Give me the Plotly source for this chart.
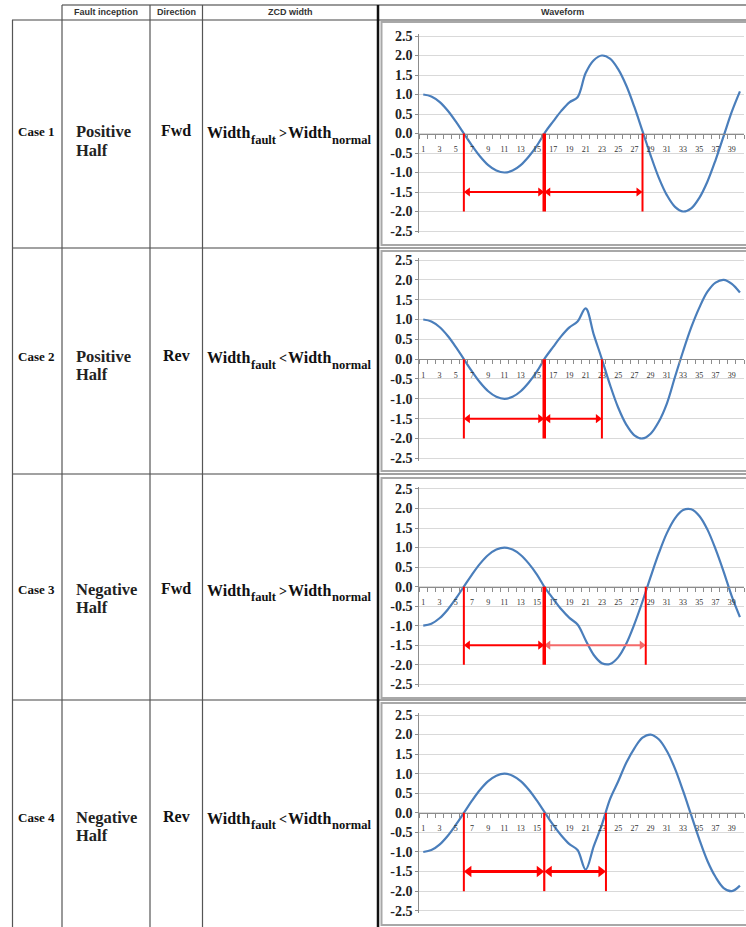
import plotly.graph_objects as go

# ---------------- data ----------------
categories = [1, 2, 3, 4, 5, 6, 7, 8, 9, 10, 11, 12, 13, 14, 15, 16, 17, 18, 19, 20,
              21, 22, 23, 24, 25, 26, 27, 28, 29, 30, 31, 32, 33, 34, 35, 36, 37, 38, 39, 40]
x_tick_vals = [1, 3, 5, 7, 9, 11, 13, 15, 17, 19, 21, 23, 25, 27, 29, 31, 33, 35, 37, 39]
x_tick_text = ["1", "3", "5", "7", "9", "11", "13", "15", "17", "19", "21", "23", "25",
               "27", "29", "31", "33", "35", "37", "39"]
y_tick_vals = [2.5, 2.0, 1.5, 1.0, 0.5, 0.0, -0.5, -1.0, -1.5, -2.0, -2.5]
y_tick_text = ["2.5", "2.0", "1.5", "1.0", "0.5", "0.0", "-0.5", "-1.0", "-1.5", "-2.0", "-2.5"]

header_labels = ["Fault inception", "Direction", "ZCD width", "Waveform"]
case_names = ["Case 1", "Case 2", "Case 3", "Case 4"]
inception_line1 = ["Positive", "Positive", "Negative", "Negative"]
inception_line2 = ["Half", "Half", "Half", "Half"]
directions = ["Fwd", "Rev", "Fwd", "Rev"]
zcd_relation = [">", "<", ">", "<"]
width_word = "Width"
fault_sub = "fault"
normal_sub = "normal"

case1_values = [1.00, 0.95, 0.81, 0.59, 0.31, 0.00, -0.31, -0.59, -0.81, -0.95,
                -1.00, -0.95, -0.81, -0.59, -0.31, 0.03, 0.31, 0.58, 0.80, 0.93,
                1.55, 1.88, 2.00, 1.92, 1.65, 1.23, 0.68, 0.06, -0.56, -1.13,
                -1.58, -1.88, -2.00, -1.92, -1.65, -1.23, -0.68, -0.06, 0.56, 1.08]
case2_values = [1.00, 0.95, 0.81, 0.59, 0.31, 0.00, -0.31, -0.59, -0.81, -0.95,
                -1.00, -0.95, -0.81, -0.59, -0.31, 0.03, 0.31, 0.58, 0.80, 0.95,
                1.28, 0.62, 0.00, -0.65, -1.22, -1.65, -1.92, -2.00, -1.88, -1.58,
                -1.12, -0.45, 0.20, 0.80, 1.30, 1.70, 1.93, 2.00, 1.90, 1.68]
case3_values = [-1.00, -0.95, -0.81, -0.59, -0.31, 0.00, 0.31, 0.59, 0.81, 0.95,
                1.00, 0.95, 0.81, 0.59, 0.31, -0.03, -0.31, -0.58, -0.80, -0.97,
                -1.37, -1.75, -1.96, -1.98, -1.81, -1.46, -0.96, -0.38, 0.25, 0.85,
                1.37, 1.75, 1.96, 1.98, 1.81, 1.46, 0.96, 0.38, -0.25, -0.78]
case4_values = [-1.00, -0.95, -0.81, -0.59, -0.31, 0.00, 0.31, 0.59, 0.81, 0.95,
                1.00, 0.95, 0.81, 0.59, 0.31, 0.00, -0.31, -0.58, -0.80, -0.95,
                -1.45, -0.85, -0.30, 0.35, 0.80, 1.28, 1.65, 1.92, 2.00, 1.88,
                1.58, 1.13, 0.56, -0.06, -0.68, -1.23, -1.64, -1.92, -2.00, -1.86]

case1_crossings = [6.0, 15.9, 28.0]
case2_crossings = [6.0, 15.9, 23.0]
case3_crossings = [6.0, 15.9, 28.4]
case4_crossings = [6.0, 15.9, 23.5]

arrow_level = -1.5
marker_depth = -2.0

all_values = [case1_values, case2_values, case3_values, case4_values]
all_crossings = [case1_crossings, case2_crossings, case3_crossings, case4_crossings]

# ---------------- layout helpers (pixel geometry) ----------------
W, H = 746, 927


def px(x):
    return x / W


def py(y):
    return 1 - y / H


plot_top = [36, 260, 489, 715]          # pixel y of +2.5
plot_bot = [231, 458.3, 684.3, 910.7]   # pixel y of -2.5
plot_left, plot_right = 419.2, 744
chart_box = [(22, 245), (251, 471), (478, 698), (703, 925)]
row_text_y = [131.7, 356.7, 589, 817]
half_text_y = [150.5, 374.5, 607.5, 835.5]
mid_width = [3.5, 3.5, 3.5, 2.2]
second_arrow_color = ["#ff0000", "#ff0000", "#f46a6a", "#ff0000"]
arrow_width = [2, 2, 2, 3]
head_size = [8, 8, 8, 10]
# left x (px) of the pieces of "Width_fault > Width_normal"
zcd_piece_x = [205, 249, 276.5, 285.5, 329.5]

SERIF = "Liberation Serif"
SANS = "Liberation Sans"
RED = "#ff0000"
AXIS_GRAY = "#8c8c8c"
PAD = 0.06

fig = go.Figure()
shapes = []
annotations = []


def note(x, y, text, size, family=SERIF, xanchor="left", color="#111111"):
    annotations.append(dict(xref="paper", yref="paper", x=px(x), y=py(y),
                            text="<b>%s</b>" % text, showarrow=False,
                            xanchor=xanchor, yanchor="middle",
                            font=dict(family=family, size=size, color=color)))


for i in range(4):
    s = "" if i == 0 else str(i + 1)
    top, bot = plot_top[i], plot_bot[i]
    ppu = (bot - top) / 5.0
    zero_px = (top + bot) / 2.0
    dom = [py(bot + PAD * ppu), py(top - PAD * ppu)]
    cat_px = (plot_right - plot_left) / 40.0

    fig.add_trace(go.Scatter(
        x=categories, y=all_values[i], mode="lines",
        line=dict(color="#4a7ebb", width=2.2, shape="spline", smoothing=1.0),
        xaxis="x" + s, yaxis="y" + s, showlegend=False, hoverinfo="skip"))

    minor_vals = [c - 0.5 for c in categories] + [categories[-1] + 0.5]
    fig.update_layout(**{
        "xaxis" + s: dict(
            domain=[px(plot_left), px(plot_right)], range=[0.5, 40.5],
            anchor="free", position=py(zero_px), automargin=False,
            showline=True, linecolor=AXIS_GRAY, linewidth=1,
            tickmode="array", tickvals=x_tick_vals, ticktext=x_tick_text,
            ticks="", ticklabelstandoff=8,
            tickfont=dict(family=SERIF, size=8, color="#333333"),
            showgrid=False, zeroline=False, fixedrange=True,
            minor=dict(tickmode="array", tickvals=minor_vals, ticks="outside",
                       ticklen=4, tickcolor=AXIS_GRAY, tickwidth=1, showgrid=False)),
        "yaxis" + s: dict(
            domain=dom, range=[-2.5 - PAD, 2.5 + PAD], anchor="x" + s,
            automargin=False,
            tickmode="array", tickvals=y_tick_vals, ticktext=y_tick_text,
            showgrid=True, gridcolor="#d9d9d9", gridwidth=1,
            showline=True, linecolor=AXIS_GRAY, linewidth=1,
            ticks="outside", ticklen=3, tickcolor=AXIS_GRAY,
            tickfont=dict(family=SERIF, size=14, color="#222222", weight="bold"),
            zeroline=False, fixedrange=True),
    })

    # red zero-crossing markers
    cr = all_crossings[i]
    for k, c in enumerate(cr):
        shapes.append(dict(type="line", xref="x" + s, yref="y" + s,
                           x0=c, x1=c, y0=0, y1=marker_depth, layer="above",
                           line=dict(color=RED, width=mid_width[i] if k == 1 else 2)))
    # double-headed arrows between crossings
    half_head = (head_size[i] / 2.0) / cat_px
    for k in range(2):
        col = RED if k == 0 else second_arrow_color[i]
        x_start, x_end = cr[k], cr[k + 1]
        fig.add_trace(go.Scatter(
            x=[x_start + half_head, x_end - half_head],
            y=[arrow_level, arrow_level], mode="lines",
            line=dict(color=col, width=arrow_width[i]),
            xaxis="x" + s, yaxis="y" + s, showlegend=False, hoverinfo="skip"))
        fig.add_trace(go.Scatter(
            x=[x_start + half_head, x_end - half_head],
            y=[arrow_level, arrow_level], mode="markers",
            marker=dict(symbol=["triangle-left", "triangle-right"],
                        size=head_size[i], color=col, line=dict(width=0)),
            xaxis="x" + s, yaxis="y" + s, showlegend=False, hoverinfo="skip"))

    # chart area border (right side runs off the page as in the source)
    bt, bb = chart_box[i]
    shapes.append(dict(type="rect", xref="paper", yref="paper",
                       x0=px(381.5), x1=px(750), y0=py(bb), y1=py(bt),
                       line=dict(color="#a8a8a8", width=2), layer="below"))

    # table text
    ty = row_text_y[i]
    note(36, ty, case_names[i], 13, xanchor="center")
    note(74, ty, inception_line1[i], 16.5, color="#222222")
    note(74, half_text_y[i], inception_line2[i], 16.5, color="#222222")
    note(176, ty - 1, directions[i], 16, xanchor="center")
    note(zcd_piece_x[0], ty + 1, width_word, 16)
    note(zcd_piece_x[1], ty + 8, fault_sub, 12.5)
    note(zcd_piece_x[2], ty + 2, zcd_relation[i], 14)
    note(zcd_piece_x[3], ty + 1, width_word, 16)
    note(zcd_piece_x[4], ty + 8, normal_sub, 12.5)

# header texts
header_x = [106, 176, 290, 562]
for lbl, hx in zip(header_labels, header_x):
    note(hx, 12.5, lbl, 9, family=SANS, xanchor="center", color="#333333")


# table grid lines
def hline(y, x0, x1, w=1.2, c="#444444"):
    shapes.append(dict(type="line", xref="paper", yref="paper",
                       x0=px(x0), x1=px(x1), y0=py(y), y1=py(y),
                       line=dict(color=c, width=w)))


def vline(x, y0, y1, w=1.2, c="#555555"):
    shapes.append(dict(type="line", xref="paper", yref="paper",
                       x0=px(x), x1=px(x), y0=py(y0), y1=py(y1),
                       line=dict(color=c, width=w)))


hline(5, 62, 746, 1.5, "#777777")
hline(20, 12, 746, 1.2)
for yy in [248, 474, 700]:
    hline(yy, 12, 746, 1.2)
vline(12.5, 20, 927)
vline(62, 5, 927)
vline(150, 5, 927)
vline(202.5, 5, 927)
vline(378, 5, 927, 2.5, "#111111")

fig.update_layout(width=W, height=H, margin=dict(l=0, r=0, t=0, b=0, autoexpand=False),
                  paper_bgcolor="white", plot_bgcolor="white",
                  shapes=shapes, annotations=annotations, showlegend=False)

fig.write_html("out.html", config={"displayModeBar": False},
               post_script="document.body.style.margin='0px';"
                           "document.body.style.padding='0px';"
                           "document.body.style.overflow='hidden';")
